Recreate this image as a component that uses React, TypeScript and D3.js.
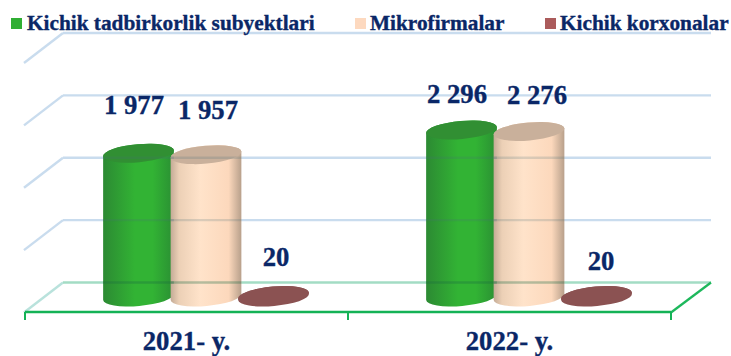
import React from "react";
import * as d3 from "d3";

const categories = ["2021- y.", "2022- y."];
const seriesNames = ["Kichik tadbirkorlik subyektlari", "Mikrofirmalar", "Kichik korxonalar"];
const tadbirkorlik = [1977, 2296];
const mikrofirmalar = [1957, 2276];
const korxonalar = [20, 20];
const valueLabels = [["1 977", "2 296"], ["1 957", "2 276"], ["20", "20"]];
const gridLevels = [0, 1, 2, 3, 4];

const W = 731, H = 356;
const NAVY = "#0a2767";
const FONT = "'Liberation Serif', serif";
const seriesValues = [tadbirkorlik, mikrofirmalar, korxonalar];
const legendColors = ["#30ae33", "#fdd9bf", "#ab5b5b"];
const topColors = ["#318f33", "#c9b09b", "#8b5252"];
const gradIds = ["gGreen", "gPeach", "gBrown"];

const x0 = d3.scaleBand<string>().domain(categories).range([25, 671]);
const x1 = d3.scalePoint<string>().domain(seriesNames).range([113.5, 248.5]);
const y = d3.scaleLinear().domain([0, 2296]).range([297, 130]);
const gridY = d3.scaleLinear().domain([0, 4]).range([282.5, 33]);

const RX = 35.5, RY = 9, ROT = -5;
const cosR = Math.cos((ROT * Math.PI) / 180), sinR = Math.sin((ROT * Math.PI) / 180);
const bodyPath = (cx: number, top: number, base: number) => {
  const dx = RX * cosR, dy = RX * sinR;
  const arc = (sweep: number, ex: number, ey: number) => `A${RX} ${RY} ${ROT} 0 ${sweep} ${ex} ${ey}`;
  return `M${cx - dx} ${top - dy}L${cx - dx} ${base - dy}${arc(0, cx + dx, base + dy)}L${cx + dx} ${top + dy}${arc(0, cx - dx, top - dy)}Z`;
};

// hand-placed label offsets from the reference: [dx, baseline]
const labelPos = [
  [[-4.5, 114], [-4.5, 103]],
  [[2, 119], [8, 104]],
  [[2.5, 266], [4.5, 270]],
];
const legendX = [[11, 27], [355, 370], [545, 560]];

export default function App() {
  const marks = categories.flatMap((c, ci) =>
    seriesNames.map((s, si) => ({
      key: `${ci}-${si}`, si, ci,
      cx: (x0(c) as number) + (x1(s) as number),
      top: y(seriesValues[si][ci]),
      base: y(0),
    }))
  );
  const tall = marks.filter((m) => m.si < 2);
  return (
    <svg width={W} height={H} viewBox={`0 0 ${W} ${H}`} style={{ position: "absolute", left: 0, top: 0, background: "#fff" }}>
      <defs>
        <linearGradient id="gGreen" x1="0" x2="1" y1="0" y2="0">
          <stop offset="0" stopColor="#2c8a33" />
          <stop offset="0.45" stopColor="#32b334" />
          <stop offset="0.7" stopColor="#32b334" />
          <stop offset="1" stopColor="#2a8f33" />
        </linearGradient>
        <linearGradient id="gPeach" x1="0" x2="1" y1="0" y2="0">
          <stop offset="0" stopColor="#c4ab96" />
          <stop offset="0.12" stopColor="#ecd0b6" />
          <stop offset="0.42" stopColor="#ffe3ca" />
          <stop offset="0.82" stopColor="#fcd8bc" />
          <stop offset="1" stopColor="#b8a08b" />
        </linearGradient>
        <linearGradient id="gBrown" x1="0" x2="1" y1="0" y2="0">
          <stop offset="0" stopColor="#8b5252" />
          <stop offset="1" stopColor="#8b5252" />
        </linearGradient>
        {tall.map((m) => (
          <clipPath id={`c${m.key}`} key={m.key}>
            <path d={bodyPath(m.cx, m.top, m.base)} />
          </clipPath>
        ))}
      </defs>

      {gridLevels.map((g) => {
        const yb = gridY(g);
        const isFloor = g === 0;
        return (
          <g key={g} fill="none" strokeWidth={2.4}>
            <line x1={24} y1={yb + 30} x2={63} y2={yb} stroke={isFloor ? "#b9e2dc" : "#c9dcee"} />
            <line x1={63} y1={yb} x2={711} y2={yb} stroke={isFloor ? "#a3dcc4" : "#c9dcee"} />
          </g>
        );
      })}
      <line x1={671} y1={312.5} x2={711} y2={282.5} stroke="#1db85c" strokeWidth={2.2} />
      <line x1={25} y1={312} x2={671} y2={312} stroke="#14b256" strokeWidth={2.4} />
      {[25, 348, 671].map((t) => (
        <line key={t} x1={t} y1={312} x2={t} y2={320} stroke="#14b256" strokeWidth={2} />
      ))}

      {[...marks].sort((a, b) => a.si - b.si).map((m) => (
        <g key={m.key}>
          <path d={bodyPath(m.cx, m.top, m.base)} fill={`url(#${gradIds[m.si]})`} />
          <ellipse cx={m.cx} cy={m.top} rx={RX} ry={RY} fill={topColors[m.si]} transform={`rotate(${ROT} ${m.cx} ${m.top})`} />
        </g>
      ))}
      {tall.map((m) =>
        gridLevels.slice(0, 3).map((g) => (
          <line key={`${m.key}-${g}`} clipPath={`url(#c${m.key})`} x1={m.cx - RX} x2={m.cx + RX} y1={gridY(g)} y2={gridY(g)}
            stroke={g === 0 ? "#1a6a40" : "#48707a"} strokeOpacity={g === 0 ? 0.32 : 0.2} strokeWidth={2.4} />
        ))
      )}

      <g fontFamily={FONT} fontWeight={700} fill={NAVY} stroke={NAVY} strokeWidth={0.35}>
        {seriesNames.map((s, i) => (
          <g key={s}>
            <rect x={legendX[i][0]} y={18} width={11} height={11} fill={legendColors[i]} stroke="none" />
            <text x={legendX[i][1]} y={30} fontSize={21.3}>{s}</text>
          </g>
        ))}
        {marks.map((m) => (
          <text key={m.key} x={m.cx + labelPos[m.si][m.ci][0]} y={labelPos[m.si][m.ci][1]} textAnchor="middle" fontSize={26.7}>
            {valueLabels[m.si][m.ci]}
          </text>
        ))}
        {categories.map((c) => (
          <text key={c} x={(x0(c) as number) + x0.bandwidth() / 2} y={350} textAnchor="middle" fontSize={26.7}>{c}</text>
        ))}
      </g>
    </svg>
  );
}
